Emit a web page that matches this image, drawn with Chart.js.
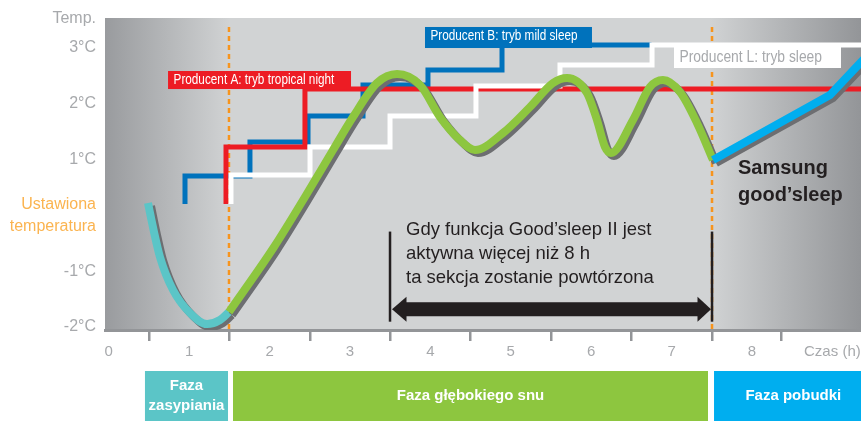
<!DOCTYPE html>
<html>
<head>
<meta charset="utf-8">
<script src="https://cdn.jsdelivr.net/npm/chart.js@4.4.1/dist/chart.umd.min.js"></script>
<style>
  html, body { margin: 0; padding: 0; background: #fff; }
  #wrap { width: 861px; height: 421px; }
</style>
</head>
<body>
<div id="wrap"><canvas id="myChart" width="861" height="421"></canvas></div>
<script>
// axis ticks
var xTickValues = [0, 1, 2, 3, 4, 5, 6, 7, 8, 9];
var xTickLabels = ['0', '1', '2', '3', '4', '5', '6', '7', '8', 'Czas (h)'];
var xBoundaries = [0.5, 1.5, 2.5, 3.5, 4.5, 5.5, 6.5, 7.5, 8.37];
var yTickValues = [3.52, 3, 2, 1, 0, -1, -2];
var yTickLabels = ['Temp.', '3°C', '2°C', '1°C', ['Ustawiona', 'temperatura'], '-1°C', '-2°C'];

// other makers: stepped profiles (hours / °C above set temperature)
var producentBHours = [0.948, 0.948, 1.756, 2.478, 3.162, 3.97, 4.891, 6.75];
var producentBTemps = [0.204, 0.706, 1.316, 1.781, 2.337, 2.606, 3.054, 3.054];
var producentAHours = [1.458, 1.458, 2.44, 9.5];
var producentATemps = [0.204, 1.226, 2.265, 2.265];
var producentLHours = [1.52, 1.52, 2.503, 3.498, 4.567, 5.612, 6.757, 9.5];
var producentLTemps = [0.204, 0.724, 1.226, 1.781, 2.32, 2.695, 3.054, 3.054];

// Samsung good'sleep curve
var fallAsleepHours = [0.488, 0.56, 0.637, 0.799, 1.01, 1.222, 1.383, 1.495];
var fallAsleepTemps = [0.222, -0.28, -0.746, -1.337, -1.749, -1.947, -1.875, -1.731];
var deepSleepHours = [1.495, 2.055, 2.44, 2.789, 3.037, 3.336, 3.585, 3.871, 4.12, 4.368, 4.555, 4.903, 5.239, 5.525, 5.70,
  5.948, 6.072, 6.172, 6.246, 6.52, 6.731, 6.893, 7.105, 7.316, 7.515];
var deepSleepTemps = [-1.731, -0.566, 0.33, 1.172, 1.763, 2.373, 2.534, 2.337, 1.763, 1.351, 1.172, 1.477, 1.943, 2.373, 2.462,
  2.194, 1.71, 1.226, 1.118, 1.71, 2.301, 2.427, 2.211, 1.656, 0.993];
var wakeHours = [7.515, 8.97, 9.593];
var wakeTemps = [0.993, 2.158, 3.108];

var noteLines = ['Gdy funkcja Good’sleep II jest', 'aktywna więcej niż 8 h', 'ta sekcja zostanie powtórzona'];

function pts(hs, ts) {
  return hs.map(function (h, i) { return { x: h, y: ts[i] }; });
}

function px(chart, h) { return chart.scales.x.getPixelForValue(h); }
function py(chart, t) { return chart.scales.y.getPixelForValue(t); }

var tags = [
  { text: 'Producent A: tryb tropical night', from: 0.737, to: 3.013, top: 2.588, bottom: 2.265, fill: '#ed1c24', color: '#ffffff', size: 14, dy: 0 },
  { text: 'Producent B: tryb mild sleep', from: 3.933, to: 6.01, top: 3.377, bottom: 3.0, fill: '#0072bc', color: '#ffffff', size: 14, dy: -1 },
  { text: 'Producent L: tryb sleep', from: 7.03, to: 9.107, top: 3.054, bottom: 2.642, fill: '#ffffff', color: '#a7a9ac', size: 16.5, dy: 1 }
];

var phases = [
  { lines: ['Faza', 'zasypiania'], from: 0.45, to: 1.483, fill: '#5bc5c7' },
  { lines: ['Faza głębokiego snu'], from: 1.545, to: 7.453, fill: '#8dc63f' },
  { lines: ['Faza pobudki'], from: 7.528, to: 9.5, fill: '#00aeef' }
];

var decor = {
  id: 'decor',
  beforeDraw: function (chart) {
    var a = chart.chartArea, ctx = chart.ctx;
    var g = ctx.createLinearGradient(a.left, 0, a.right, 0);
    g.addColorStop(0, '#999b9e');
    g.addColorStop(0.165, '#d1d3d4');
    g.addColorStop(0.80, '#d1d3d4');
    g.addColorStop(1, '#939598');
    ctx.save();
    ctx.fillStyle = g;
    ctx.fillRect(a.left, a.top, a.right - a.left, a.bottom - a.top);
    ctx.restore();
  },
  beforeDatasetsDraw: function (chart) {
    var ctx = chart.ctx, a = chart.chartArea;
    ctx.save();
    ctx.strokeStyle = '#f7941d';
    ctx.lineWidth = 2.5;
    ctx.setLineDash([5, 4]);
    [1.495, 7.503].forEach(function (h) {
      var x = px(chart, h);
      ctx.beginPath();
      ctx.moveTo(x, a.top + 9);
      ctx.lineTo(x, a.bottom);
      ctx.stroke();
    });
    ctx.restore();
  },
  beforeDatasetDraw: function (chart, args) {
    if (!chart.data.datasets[args.index].shadow) return;
    var ctx = chart.ctx;
    ctx.save();
    ctx.shadowColor = '#6d6e71';
    ctx.shadowOffsetX = 3;
    ctx.shadowOffsetY = 3;
    ctx.shadowBlur = 0;
  },
  afterDatasetDraw: function (chart, args) {
    if (chart.data.datasets[args.index].shadow) chart.ctx.restore();
  },
  afterDatasetsDraw: function (chart) {
    var ctx = chart.ctx;
    ctx.save();

    // producer tags
    tags.forEach(function (t) {
      var x0 = px(chart, t.from), x1 = px(chart, t.to), y0 = py(chart, t.top), y1 = py(chart, t.bottom);
      ctx.fillStyle = t.fill;
      ctx.fillRect(x0, y0, x1 - x0, y1 - y0);
      ctx.save();
      ctx.translate(x0 + 5.5, (y0 + y1) / 2 + t.dy);
      ctx.scale(0.84, 1);
      ctx.font = t.size + 'px "Liberation Sans"';
      ctx.fillStyle = t.color;
      ctx.textBaseline = 'middle';
      ctx.textAlign = 'left';
      ctx.fillText(t.text, 0, 0);
      ctx.restore();
    });

    // repeat arrow
    var xa = px(chart, 3.498), xb = px(chart, 7.503);
    var yc = py(chart, -1.682), yt = py(chart, -0.29), yb = py(chart, -1.905);
    ctx.fillStyle = '#231f20';
    ctx.fillRect(xa - 1.25, yt, 2.5, yb - yt);
    ctx.fillRect(xb - 1.25, yt, 2.5, yb - yt);
    ctx.fillRect(xa + 14, yc - 7, xb - xa - 28, 14);
    ctx.beginPath();
    ctx.moveTo(xa + 2, yc); ctx.lineTo(xa + 16.5, yc - 12.5); ctx.lineTo(xa + 16.5, yc + 12.5);
    ctx.closePath(); ctx.fill();
    ctx.beginPath();
    ctx.moveTo(xb - 1, yc); ctx.lineTo(xb - 14.5, yc - 12.5); ctx.lineTo(xb - 14.5, yc + 12.5);
    ctx.closePath(); ctx.fill();

    ctx.font = '18.5px "Liberation Sans"';
    ctx.textBaseline = 'middle';
    ctx.textAlign = 'left';
    var tx = px(chart, 3.697), ty = py(chart, -0.262);
    noteLines.forEach(function (l, i) { ctx.fillText(l, tx, ty + i * 24); });

    ctx.font = 'bold 20px "Liberation Sans"';
    var sx = px(chart, 7.826), sy = py(chart, 0.846);
    ctx.fillText('Samsung', sx, sy);
    ctx.fillText('good’sleep', sx, sy + 27);

    // sleep phases under the axis
    var top = chart.chartArea.bottom + 41, bottom = chart.height;
    phases.forEach(function (p) {
      var x0 = px(chart, p.from), x1 = px(chart, p.to);
      ctx.fillStyle = p.fill;
      ctx.fillRect(x0, top, x1 - x0, bottom - top);
      ctx.fillStyle = '#ffffff';
      ctx.font = 'bold 15px "Liberation Sans"';
      ctx.textAlign = 'center';
      var cy = (top + bottom) / 2 - (p.lines.length - 1) * 10;
      p.lines.forEach(function (l, i) { ctx.fillText(l, (x0 + x1) / 2, cy + i * 20); });
    });
    ctx.restore();
  }
};

Chart.defaults.font.family = '"Liberation Sans", Arial, sans-serif';

var lineBase = { pointRadius: 0, fill: false, xAxisID: 'x', yAxisID: 'y' };

var ctx = document.getElementById('myChart').getContext('2d');
var chart = new Chart(ctx, {
  type: 'line',
  data: {
    datasets: [
      Object.assign({ label: 'Pobudka', data: pts(wakeHours, wakeTemps), borderColor: '#00aeef', borderWidth: 8, shadow: true }, lineBase),
      Object.assign({ label: 'Głęboki sen', data: pts(deepSleepHours, deepSleepTemps), borderColor: '#8dc63f', borderWidth: 8,
        cubicInterpolationMode: 'monotone', shadow: true }, lineBase),
      Object.assign({ label: 'Zasypianie', data: pts(fallAsleepHours, fallAsleepTemps), borderColor: '#5bc5c7', borderWidth: 8,
        cubicInterpolationMode: 'monotone', shadow: true }, lineBase),
      Object.assign({ label: 'Producent L', data: pts(producentLHours, producentLTemps), borderColor: '#ffffff', borderWidth: 5, stepped: true }, lineBase),
      Object.assign({ label: 'Producent A', data: pts(producentAHours, producentATemps), borderColor: '#ed1c24', borderWidth: 5, stepped: true }, lineBase),
      Object.assign({ label: 'Producent B', data: pts(producentBHours, producentBTemps), borderColor: '#0072bc', borderWidth: 5, stepped: true }, lineBase)
    ]
  },
  options: {
    responsive: false,
    animation: false,
    events: [],
    devicePixelRatio: 1,
    layout: { padding: { top: 18, left: 0, right: 0, bottom: 0 } },
    plugins: { legend: { display: false }, tooltip: { enabled: false } },
    scales: {
      x: {
        type: 'linear', position: 'bottom', weight: 1,
        min: -0.047, max: 9.356,
        grid: { display: false, drawTicks: false },
        border: { display: false },
        ticks: {
          autoSkip: false, maxRotation: 0, padding: 2,
          color: '#a7a9ac', font: { size: 15 },
          callback: function (v, i) { return xTickLabels[i]; }
        },
        afterBuildTicks: function (s) { s.ticks = xTickValues.map(function (v) { return { value: v }; }); },
        afterFit: function (s) { s.height = 80; s.paddingLeft = 0; s.paddingRight = 0; }
      },
      xb: {
        type: 'linear', axis: 'x', position: 'bottom', weight: 0,
        min: -0.047, max: 9.356,
        grid: { drawOnChartArea: false, drawTicks: true, tickLength: 11, color: '#939598', lineWidth: 2.5 },
        border: { display: true, color: '#939598', width: 3 },
        ticks: { display: false },
        afterBuildTicks: function (s) { s.ticks = xBoundaries.map(function (v) { return { value: v }; }); },
        afterFit: function (s) { s.height = 11; s.paddingLeft = 0; s.paddingRight = 0; }
      },
      y: {
        type: 'linear', position: 'left',
        min: -2.054, max: 3.538,
        grid: { display: false, drawTicks: false },
        border: { display: false },
        ticks: {
          autoSkip: false, padding: 9,
          font: { size: 16, lineHeight: 1.375 },
          color: function (c) { return c.tick && c.tick.value === 0 ? '#fbb450' : '#a7a9ac'; },
          callback: function (v, i) { return yTickLabels[i]; }
        },
        afterBuildTicks: function (s) { s.ticks = yTickValues.map(function (v) { return { value: v }; }); },
        afterFit: function (s) { s.width = 105; s.paddingTop = 0; s.paddingBottom = 0; }
      }
    }
  },
  plugins: [decor]
});
</script>
</body>
</html>
